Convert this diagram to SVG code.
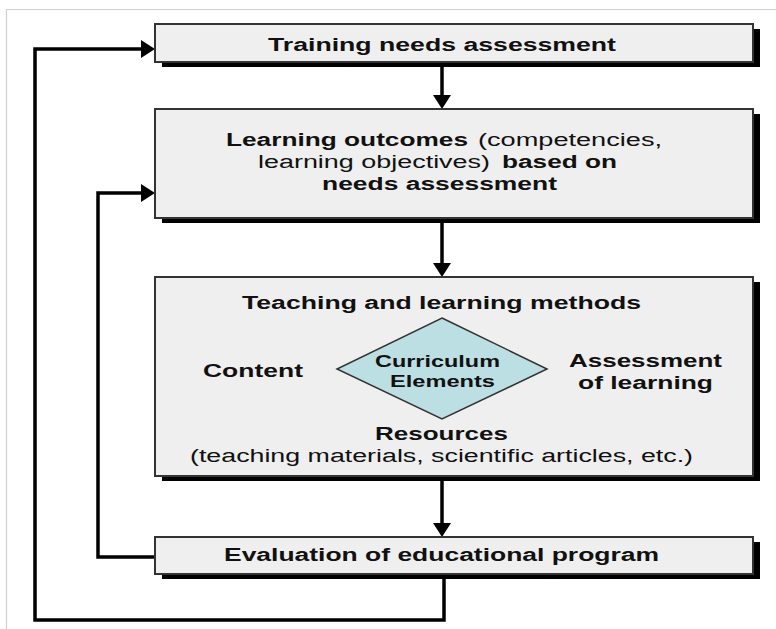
<svg xmlns="http://www.w3.org/2000/svg" width="776" height="629" viewBox="0 0 776 629">
  <style>
    .frame { fill: none; stroke: #cfcfcf; stroke-width: 1.2; }
    .box { fill: #efefef; stroke: #333; stroke-width: 2; }
    .shadow { fill: #000; }
    .diamond { fill: #bcdfe3; stroke: #333; stroke-width: 1.5; }
    .t { font-family: "Liberation Sans", Arial, sans-serif; font-size: 18px; fill: #111; }
    .b { font-weight: bold; }
    .d { font-size: 16.5px; }
    .link { fill: none; stroke: #000; stroke-width: 3.5; stroke-linejoin: miter; }
  </style>
  <defs>
    <marker id="head" viewBox="0 0 14 18" refX="2" refY="9" markerWidth="14" markerHeight="18" markerUnits="userSpaceOnUse" orient="auto">
      <path d="M0,0 L14,9 L0,18 Z" fill="#000"/>
    </marker>
  </defs>

  <rect width="776" height="629" fill="#fff"/>
  <path class="frame" d="M6.5,629 V9.5 H776"/>

  <!-- connectors -->
  <g id="connectors">
    <path class="link" d="M442,67 V97" marker-end="url(#head)"/>
    <path class="link" d="M442,223 V265" marker-end="url(#head)"/>
    <path class="link" d="M442,481 V525" marker-end="url(#head)"/>
    <path class="link" d="M155,557 H98 V193 H143" marker-end="url(#head)"/>
    <path class="link" d="M444,579 V620 H35 V49 H143" marker-end="url(#head)"/>
  </g>

  <g id="needs">
    <rect class="shadow" x="162" y="29" width="598" height="38"/>
    <rect class="box" x="155" y="24" width="598" height="38"/>
    <text class="t b" x="268" y="50.5" textLength="348" lengthAdjust="spacingAndGlyphs">Training needs assessment</text>
  </g>

  <g id="outcomes">
    <rect class="shadow" x="162" y="114" width="598" height="109"/>
    <rect class="box" x="155" y="109" width="598" height="109"/>
    <text class="t b" x="226" y="146" textLength="242" lengthAdjust="spacingAndGlyphs">Learning outcomes</text>
    <text class="t" x="478" y="146" textLength="184" lengthAdjust="spacingAndGlyphs">(competencies,</text>
    <text class="t" x="258" y="168" textLength="232" lengthAdjust="spacingAndGlyphs">learning objectives)</text>
    <text class="t b" x="502" y="168" textLength="115" lengthAdjust="spacingAndGlyphs">based on</text>
    <text class="t b" x="322" y="190" textLength="235" lengthAdjust="spacingAndGlyphs">needs assessment</text>
  </g>

  <g id="curriculum">
    <rect class="shadow" x="162" y="282" width="598" height="199"/>
    <rect class="box" x="155" y="277" width="598" height="199"/>
    <text class="t b" x="242" y="309" textLength="399" lengthAdjust="spacingAndGlyphs">Teaching and learning methods</text>
    <text class="t b" x="203" y="377" textLength="100" lengthAdjust="spacingAndGlyphs">Content</text>
    <g id="elements">
      <polygon class="diamond" points="442,318 547,369 442,419 337,369"/>
      <text class="t b d" x="375" y="367" textLength="125" lengthAdjust="spacingAndGlyphs">Curriculum</text>
      <text class="t b d" x="390" y="387" textLength="105" lengthAdjust="spacingAndGlyphs">Elements</text>
    </g>
    <text class="t b" x="569" y="367" textLength="153" lengthAdjust="spacingAndGlyphs">Assessment</text>
    <text class="t b" x="578" y="389" textLength="135" lengthAdjust="spacingAndGlyphs">of learning</text>
    <text class="t b" x="375" y="440" textLength="133" lengthAdjust="spacingAndGlyphs">Resources</text>
    <text class="t" x="190" y="462" textLength="503" lengthAdjust="spacingAndGlyphs">(teaching materials, scientific articles, etc.)</text>
  </g>

  <g id="evaluation">
    <rect class="shadow" x="162" y="542" width="598" height="37"/>
    <rect class="box" x="155" y="537" width="598" height="37"/>
    <text class="t b" x="224" y="561" textLength="435" lengthAdjust="spacingAndGlyphs">Evaluation of educational program</text>
  </g>
</svg>
